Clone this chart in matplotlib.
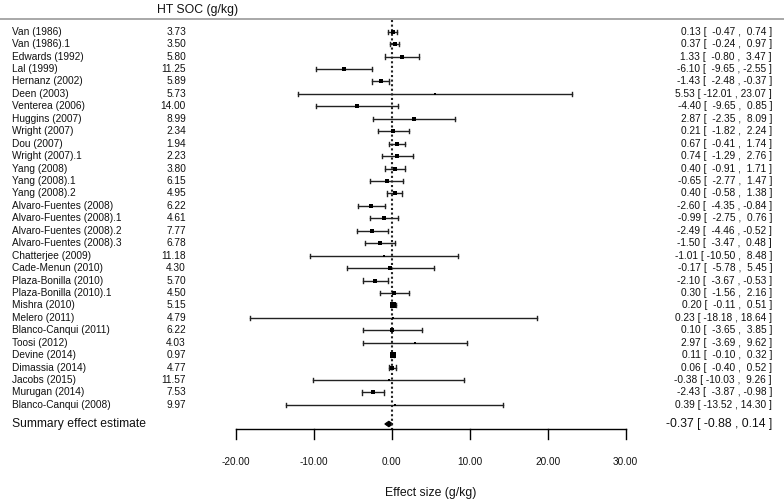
import numpy as np
import matplotlib
matplotlib.use("Agg")
from matplotlib import pyplot as plt

plt.rcParams['font.family'] = ['Liberation Sans', 'DejaVu Sans']

studies = ["Van (1986)", "Van (1986).1", "Edwards (1992)", "Lal (1999)", "Hernanz (2002)",
           "Deen (2003)", "Venterea (2006)", "Huggins (2007)", "Wright (2007)", "Dou (2007)",
           "Wright (2007).1", "Yang (2008)", "Yang (2008).1", "Yang (2008).2",
           "Alvaro-Fuentes (2008)", "Alvaro-Fuentes (2008).1", "Alvaro-Fuentes (2008).2",
           "Alvaro-Fuentes (2008).3", "Chatterjee (2009)", "Cade-Menun (2010)",
           "Plaza-Bonilla (2010)", "Plaza-Bonilla (2010).1", "Mishra (2010)", "Melero (2011)",
           "Blanco-Canqui (2011)", "Toosi (2012)", "Devine (2014)", "Dimassia (2014)",
           "Jacobs (2015)", "Murugan (2014)", "Blanco-Canqui (2008)"]
ht_soc = [3.73, 3.50, 5.80, 11.25, 5.89, 5.73, 14.00, 8.99, 2.34, 1.94, 2.23, 3.80, 6.15,
          4.95, 6.22, 4.61, 7.77, 6.78, 11.18, 4.30, 5.70, 4.50, 5.15, 4.79, 6.22, 4.03,
          0.97, 4.77, 11.57, 7.53, 9.97]
est = [0.13, 0.37, 1.33, -6.10, -1.43, 5.53, -4.40, 2.87, 0.21, 0.67, 0.74, 0.40, -0.65,
       0.40, -2.60, -0.99, -2.49, -1.50, -1.01, -0.17, -2.10, 0.30, 0.20, 0.23, 0.10, 2.97,
       0.11, 0.06, -0.38, -2.43, 0.39]
ci_lo = [-0.47, -0.24, -0.80, -9.65, -2.48, -12.01, -9.65, -2.35, -1.82, -0.41, -1.29, -0.91,
         -2.77, -0.58, -4.35, -2.75, -4.46, -3.47, -10.50, -5.78, -3.67, -1.56, -0.11,
         -18.18, -3.65, -3.69, -0.10, -0.40, -10.03, -3.87, -13.52]
ci_hi = [0.74, 0.97, 3.47, -2.55, -0.37, 23.07, 0.85, 8.09, 2.24, 1.74, 2.76, 1.71, 1.47,
         1.38, -0.84, 0.76, -0.52, 0.48, 8.48, 5.45, -0.53, 2.16, 0.51, 18.64, 3.85, 9.62,
         0.32, 0.52, 9.26, -0.98, 14.30]
summary = (-0.37, -0.88, 0.14)
xticks = [-20, -10, 0, 10, 20, 30]

# pixel geometry of the reference: x=0 at 391.7px, 7.8px per unit; row 1 at 31.7px, 12.44px per row
W, H = 784, 501
px_x0, px_unit = 391.7, 7.8
py_r1, py_row = 31.7, 12.44


def xd(px):
    return (px - px_x0) / px_unit


def yd(py):
    return 1 + (py - py_r1) / py_row


fig = plt.figure(figsize=(W / 100, H / 100), dpi=100)
ax = fig.add_axes([0, 0, 1, 1])
ax.set_xlim(xd(0), xd(W))
ax.set_ylim(yd(H), yd(0))
ax.axis('off')

n = len(studies)
rows = np.arange(1, n + 1)
lo = np.array(ci_lo)
hi = np.array(ci_hi)

# marker size from precision (metafor style: 1/se rescaled to 0.5..1.5)
wi = 1 / (hi - lo)
ps = (wi - wi.min()) / (wi.max() - wi.min()) + 0.5

col = '#222222'
tc = '#111111'
cap = 0.17
y_axis = yd(429)
y_summ = yd(424)

# header
ax.text(xd(157), yd(9.5), "HT SOC (g/kg)", fontsize=8.8, ha='left', va='center', color=tc)
ax.axhline(yd(19), color='#999999', lw=1.2)

# reference line
ax.plot([0, 0], [yd(20), y_axis], color='#222222', lw=1.5, ls=(0, (1, 1.2)))

for r, s, v, e, l, h, p in zip(rows, studies, ht_soc, est, lo, hi, ps):
    ax.text(xd(12), r, s, fontsize=7.25, ha='left', va='center', color=tc)
    ax.text(xd(186), r, f"{v:.2f}", fontsize=7.25, ha='right', va='center', color=tc)
    ax.text(xd(772), r, f"{e:.2f} [ {l:6.2f} , {h:5.2f} ]", fontsize=7.25, ha='right',
            va='center', color=tc)
    ax.plot([l, h], [r, r], color=col, lw=1.0)
    ax.plot([l, l], [r - cap, r + cap], color=col, lw=1.0)
    ax.plot([h, h], [r - cap, r + cap], color=col, lw=1.0)
    ax.plot(e, r, marker='s', ms=2.1 + 2.7 * (p - 0.5), color='black', mew=0)

# summary diamond
se, sl, sh = summary
ax.fill([sl, se, sh, se], [y_summ, y_summ - 0.22, y_summ, y_summ + 0.22], color='black',
        ec='black', lw=0.8)
ax.text(xd(12), y_summ, "Summary effect estimate", fontsize=8.7, ha='left', va='center',
        color=tc)
ax.text(xd(772), y_summ, f"{se:.2f} [ {sl:.2f} , {sh:.2f} ]", fontsize=8.7, ha='right',
        va='center', color=tc)

# x axis
ax.plot([xticks[0], xticks[-1]], [y_axis, y_axis], color='black', lw=1.0)
for t in xticks:
    ax.plot([t, t], [y_axis, yd(439)], color='black', lw=1.0)
    ax.text(t, yd(462), f"{t:.2f}", fontsize=7.2, ha='center', va='center', color=tc)
ax.text(np.mean([xticks[0], xticks[-1]]), yd(493), "Effect size (g/kg)", fontsize=8.8,
        ha='center', va='center', color=tc)

fig.savefig("out.png", dpi=100)
